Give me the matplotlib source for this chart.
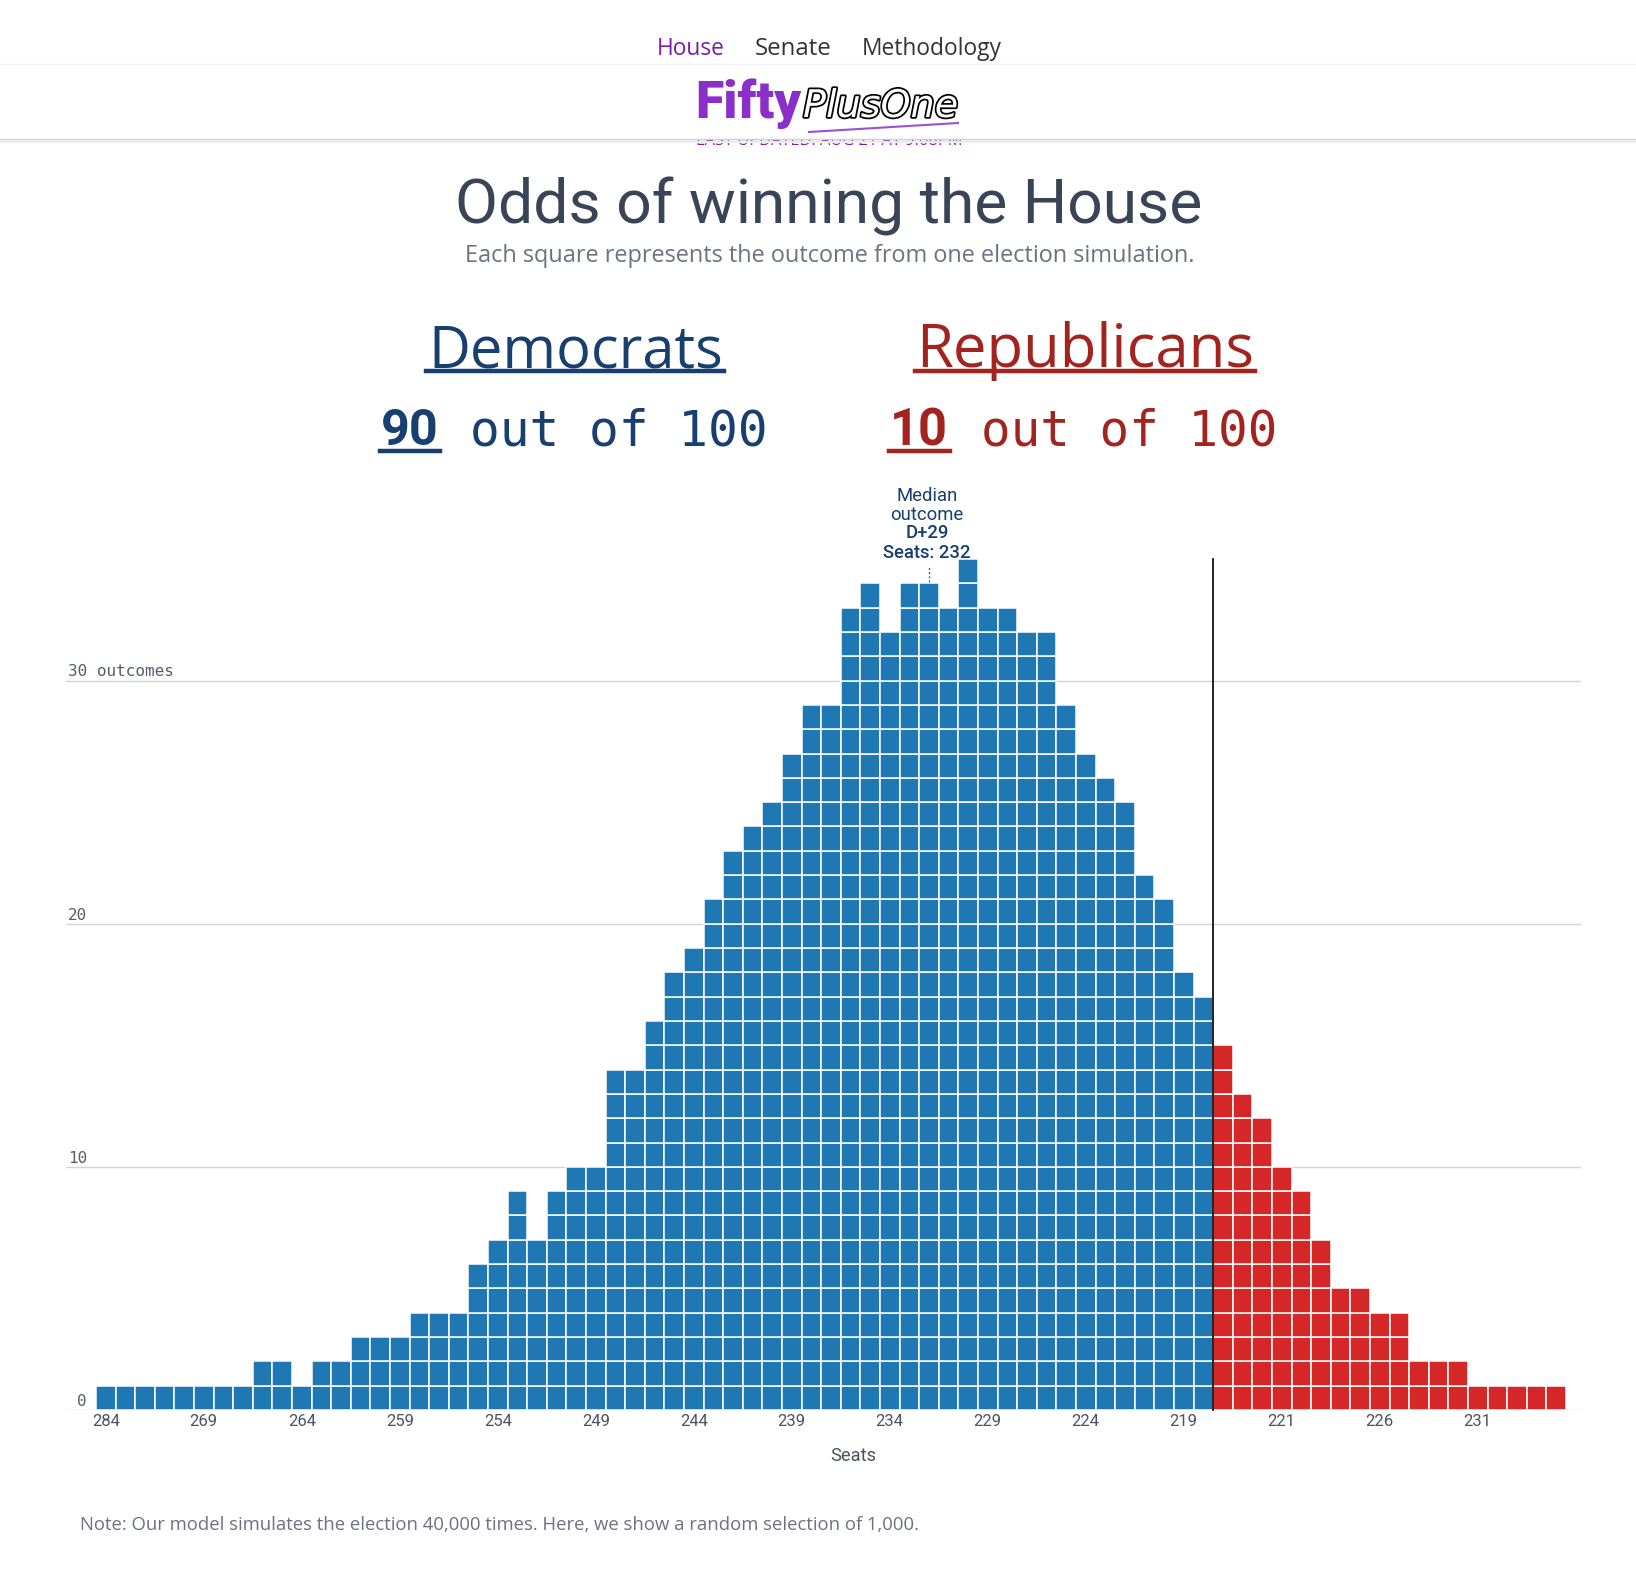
import matplotlib
matplotlib.use("Agg")
import matplotlib.pyplot as plt
import matplotlib.patheffects as pe
from matplotlib.patches import Rectangle
from matplotlib.lines import Line2D

W, H = 1636, 1575

# outcomes per seat count, left to right as shown
dem_counts = [1, 1, 1, 1, 1, 1, 1, 1, 2, 2, 1, 2, 2, 3, 3, 3, 4, 4, 4, 6, 7, 9, 7, 9,
              10, 10, 14, 14, 16, 18, 19, 21, 23, 24, 25, 27, 29, 29, 33, 34, 32, 34,
              34, 33, 35, 33, 33, 32, 32, 29, 27, 26, 25, 22, 21, 18, 17]
rep_counts = [15, 13, 12, 10, 9, 7, 5, 5, 4, 4, 2, 2, 2, 1, 1, 1, 1, 1]
tick_labels = ["284", "269", "264", "259", "254", "249", "244", "239", "234", "229",
               "224", "219", "221", "226", "231"]
y_ticks = [0, 10, 20, 30]
median_col = 42
median_text = ["Median", "outcome", "D+29", "Seats: 232"]
dem_odds, rep_odds = 90, 10

BLUE, RED = "#1f77b4", "#d62728"
NAVY, DARKRED = "#173f6f", "#a3241f"
PURPLE = "#7b1fa2"

fig = plt.figure(figsize=(W / 100, H / 100), dpi=100)
renderer = fig.canvas.get_renderer()


def fx(x):
    return x / W


def fy(y):
    return 1 - y / H


def put(x, y, s, width=None, ha="left", **kw):
    t = fig.text(fx(x), fy(y), s, ha=ha, va="baseline", **kw)
    if width:
        w = t.get_window_extent(renderer).width
        t.set_fontsize(t.get_fontsize() * width / w)
    return t


def hline(x0, x1, y, color, lw, z=2):
    fig.add_artist(Line2D([fx(x0), fx(x1)], [fy(y), fy(y)], color=color, lw=lw,
                          transform=fig.transFigure, zorder=z))


# nav + header band
put(657, 55, "House", width=68, color=PURPLE, family="Open Sans", fontsize=15)
put(755, 55, "Senate", width=77, color="#333333", family="Open Sans", fontsize=15)
put(862, 55, "Methodology", width=140, color="#333333", family="Open Sans", fontsize=15)
hline(0, W, 64, "#efefef", 1)

put(829, 145, "LAST UPDATED: AUG 21 AT 9:08PM", width=266, ha="center", color=PURPLE,
    family="Open Sans", fontsize=11, zorder=2)
fig.add_artist(Rectangle((0, fy(139)), 1, fy(65) - fy(139), transform=fig.transFigure,
                         facecolor="white", edgecolor="none", zorder=3))
hline(0, W, 139, "#d0d0d0", 1, z=3)
hline(0, W, 140.5, "#e4e4e4", 1, z=3)
hline(0, W, 142, "#f1f1f1", 1, z=3)

put(695, 118, "Fifty", width=106, color="#8b2fc9", family="Roboto", fontweight="black",
    fontsize=30, zorder=4)
put(803, 117, "PlusOne", width=155, color="white", family="DejaVu Sans", fontstyle="italic",
    fontsize=30, zorder=4,
    path_effects=[pe.withStroke(linewidth=2.5, foreground="black")])
fig.add_artist(Line2D([fx(809), fx(958)], [fy(132), fy(123)], color="#9b4fd6", lw=1.5,
                      transform=fig.transFigure, zorder=4))

# titles
put(829, 223, "Odds of winning the House", width=748, ha="center", color="#394456",
    family="Roboto", fontsize=40)
put(830, 262, "Each square represents the outcome from one election simulation.",
    width=729, ha="center", color="#6b7280", family="Open Sans", fontsize=15)

put(428, 367, "Democrats", width=294, color=NAVY, family="Open Sans", fontsize=38)
hline(426, 724, 371, NAVY, 3.2)
put(916, 367, "Republicans", width=337, color=DARKRED, family="Open Sans", fontsize=38)
hline(915, 1255, 371, DARKRED, 3.2)

put(381, 445, str(dem_odds), width=58, color=NAVY, family="Roboto", fontweight="bold",
    fontsize=36)
put(470, 445, "out of 100", width=298, color=NAVY, family="DejaVu Sans Mono", fontsize=36)
hline(380, 440, 451, NAVY, 3.2)
put(890, 445, str(rep_odds), width=58, color=DARKRED, family="Roboto", fontweight="bold",
    fontsize=36)
put(981, 445, "out of 100", width=297, color=DARKRED, family="DejaVu Sans Mono", fontsize=36)
hline(889, 950, 451, DARKRED, 3.2)

# median label
mt = put(927, 558, median_text[3], width=88, ha="center", color=NAVY, family="Roboto",
         fontweight="medium", fontsize=11)
fs = mt.get_fontsize()
for line, yb in zip(median_text[:3], [501, 520, 538]):
    put(927, yb, line, ha="center", color=NAVY, family="Roboto",
        fontweight="medium" if line.startswith("D") else "normal", fontsize=fs)

# chart
ax = fig.add_axes([fx(66), fy(1410), (1581 - 66) / W, (1410 - 559) / H])
ax.set_xlim(-2.03, 75.27)
ax.set_ylim(0, 35)
ax.set_axis_off()

for v in y_ticks:
    ax.axhline(v, color="#d4d4d4", lw=1, zorder=0)
    if v == 30:
        ax.text(-1.93, v + 0.17, f"{v} outcomes", ha="left", va="baseline",
                family="DejaVu Sans Mono", fontsize=11.5, color="#555d69")
    else:
        ax.text(-0.96, v + 0.17, str(v), ha="right", va="baseline",
                family="DejaVu Sans Mono", fontsize=11.5, color="#555d69")

counts = dem_counts + rep_counts
colors = [BLUE] * len(dem_counts) + [RED] * len(rep_counts)
for row in range(max(counts)):
    idx = [i for i, c in enumerate(counts) if c > row]
    ax.bar(idx, 1, bottom=row, width=1, color=[colors[i] for i in idx],
           edgecolor="white", linewidth=1.1, zorder=2)

split = len(dem_counts) - 0.5
ax.plot([split, split], [0, 35], color="#111111", lw=1.3, zorder=3, clip_on=False)
ax.plot([median_col, median_col], [counts[median_col] + 0.05, counts[median_col] + 0.7],
        ls=(0, (1.5, 1.5)), color=BLUE, lw=1, clip_on=False)

for k, lab in enumerate(tick_labels):
    ax.text(k * 5, -0.66, lab, ha="center", va="baseline", family="Roboto",
            fontsize=12, color="#4b5260", clip_on=False)

put(853, 1461, "Seats", width=46, ha="center", color="#4b5260", family="Roboto",
    fontsize=13)
put(80, 1530, "Note: Our model simulates the election 40,000 times. Here, we show a random "
    "selection of 1,000.", width=838, color="#6b7280", family="Open Sans", fontsize=12)

fig.savefig("out.png", dpi=100, facecolor="white")
